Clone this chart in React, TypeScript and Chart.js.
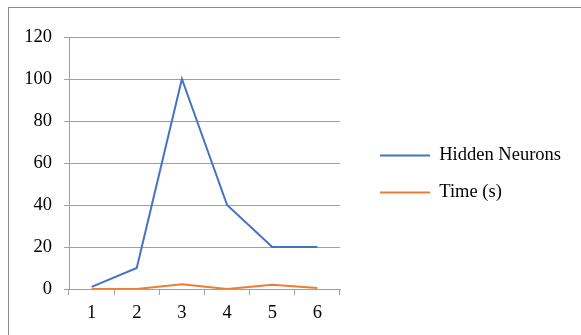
import { useEffect, useRef } from 'react';
import { Chart, registerables } from 'chart.js';

Chart.register(...registerables);

// Series data
const categories = ['1', '2', '3', '4', '5', '6'];
const hiddenNeurons = [1, 10, 100, 40, 20, 20];
const timeSeconds = [0, 0, 2.3, 0, 2, 0.5];
const seriesNames = ['Hidden Neurons', 'Time (s)'];
const yMin = 0;
const yMax = 120;
const yStep = 20;

const BLUE = '#4472C4';
const ORANGE = '#ED7D31';
const GRID = '#a0a0a0';
const FONT = { family: "'Liberation Serif', 'Times New Roman', serif", size: 18.5 };

// Nudges the right-hand legend away from the plot area and up a little.
const legendShift = {
  id: 'legendShift',
  afterLayout(chart: any) {
    const l = chart.legend;
    if (l) {
      l.left += 21.5;
      l.right += 21.5;
      l.top -= 9;
      l.bottom -= 9;
    }
  },
};

export default function App() {
  const ref = useRef<HTMLCanvasElement | null>(null);

  useEffect(() => {
    if (!ref.current) return;
    const chart = new Chart(ref.current, {
      type: 'line',
      data: {
        labels: categories,
        datasets: [
          {
            label: seriesNames[0],
            data: hiddenNeurons,
            borderColor: BLUE,
            backgroundColor: BLUE,
            borderWidth: 2,
            pointRadius: 0,
            tension: 0,
          },
          {
            label: seriesNames[1],
            data: timeSeconds,
            borderColor: ORANGE,
            backgroundColor: ORANGE,
            borderWidth: 2,
            pointRadius: 0,
            tension: 0,
          },
        ],
      },
      options: {
        responsive: false,
        animation: false,
        devicePixelRatio: 1,
        layout: { padding: { top: 29, left: 0, bottom: 6, right: 41 } },
        plugins: {
          tooltip: { enabled: false },
          legend: {
            position: 'right',
            maxWidth: 200,
            labels: {
              usePointStyle: true,
              pointStyle: 'line',
              pointStyleWidth: 50,
              padding: 18.5,
              color: '#000',
              font: FONT,
            },
          },
        },
        scales: {
          x: {
            type: 'category',
            offset: true,
            grid: {
              offset: true,
              drawOnChartArea: false,
              drawTicks: true,
              tickLength: 6,
              color: GRID,
            },
            border: { color: GRID, width: 1 },
            ticks: { color: '#000', font: FONT, padding: 7, maxRotation: 0 },
            afterFit: (s: any) => {
              s.height = 40;
            },
          },
          y: {
            min: yMin,
            max: yMax,
            ticks: { stepSize: yStep, color: '#000', font: FONT, padding: 12 },
            grid: { color: GRID, drawTicks: true, tickLength: 5 },
            border: { color: GRID, width: 1 },
            afterFit: (s: any) => {
              s.width = 60;
            },
          },
        },
      },
      plugins: [legendShift],
    });
    return () => chart.destroy();
  }, []);

  return (
    <div style={{ position: 'fixed', inset: 0, overflow: 'hidden', background: '#fff' }}>
      <div
        style={{
          position: 'absolute',
          left: 8,
          top: 7,
          width: 590,
          height: 345,
          border: '1px solid #8c8c8c',
          boxSizing: 'border-box',
        }}
      >
        <canvas
          ref={ref}
          width={572}
          height={327}
          style={{ position: 'absolute', left: 0, top: 0, width: 572, height: 327 }}
        />
      </div>
    </div>
  );
}
